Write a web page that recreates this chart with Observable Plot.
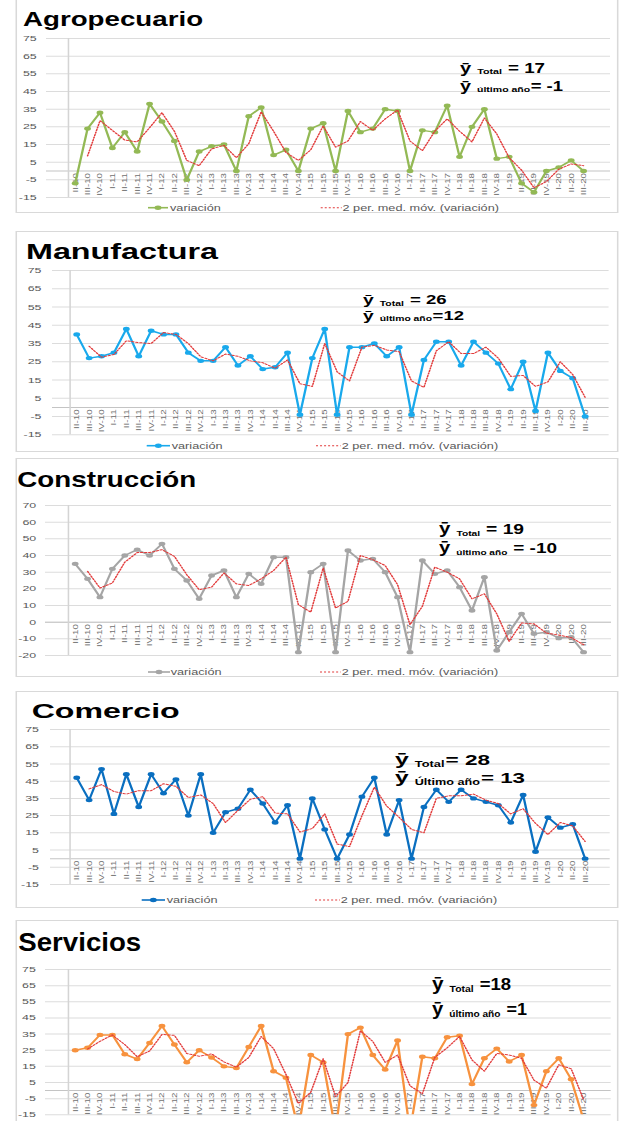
<!DOCTYPE html>
<html><head><meta charset="utf-8">
<script src="https://cdn.jsdelivr.net/npm/d3@7"></script>
<script src="https://cdn.jsdelivr.net/npm/@observablehq/plot@0.6"></script>
<style>
html,body{margin:0;padding:0;background:#fff;overflow:hidden;width:633px;height:1121px;}
#stage{position:absolute;left:0;top:0;width:408px;height:1121px;transform:scaleX(1.55);transform-origin:0 0;font-family:"Liberation Sans",Arial,sans-serif;}
.panel{position:absolute;border:1px solid #d9d9d9;box-sizing:border-box;background:#fff;}
.plotbox{position:absolute;left:0;z-index:1;}
.overlay{position:absolute;left:0;top:0;z-index:2;pointer-events:none;}
</style></head>
<body><div id="stage"></div>
<script>
// ---- data ----
const quarters = ["II-10","III-10","IV-10","I-11","II-11","III-11","IV-11","I-12","II-12","III-12","IV-12",
  "I-13","II-13","III-13","IV-13","I-14","II-14","III-14","IV-14","I-15","II-15","III-15","IV-15",
  "I-16","II-16","III-16","IV-16","I-17","II-17","III-17","IV-17","I-18","II-18","III-18","IV-18",
  "I-19","II-19","III-19","IV-19","I-20","II-20","III-20"];
const agropecuario = [-7,24,33,13,22,11,38,28,17,-5,11,14,15,0,31,36,9,12,0,24,27,0,34,22,24,35,34,0,23,22,37,8,25,35,7,8,-7,-12,0,2,6,0];
const manufactura = [40,27,28,30,43,28,42,40,40,30,25.5,25.5,33,23,28,21,22,30,-4,27,43,-4,33,33,35,28,33,-4,26,36,36,23,36,30,24,10,25,-2,30,20,16,-5];
const construccion = [35,26,15,32,40,43.5,40,47,32,25,14,28,31,15,29,23,39,39,-18,30,35,-18,43,37,38,30,15,-18,37,29,31,21,7,27,-17,-6,5,-7,-6,-9.5,-9,-18];
const comercio = [47,34,52,26,49,30,49,38,46,25,49,15,27,29,40,32,21,31,0,35,17,0,14,36,47,14,34,0,30,40,33,40,35,33,31,21,37,4,24,18,20,0];
const servicios = [25,26.5,34.5,34.5,22.5,19.5,29.5,40,28.5,17.5,25,20.5,15,14,27,40,12,8,-24,22,17.5,-25,35,39,22,13,31,-25,21,20,33,34,4,20,26,18,22,-9,12,20,7,-18];
const ticks15 = [-15,-5,5,15,25,35,45,55,65,75];
const ticks20 = [-20,-10,0,10,20,30,40,50,60,70];
const titles = ["Agropecuario","Manufactura","Construcción","Comercio","Servicios"];
const promTotal = [17,26,19,28,18];
const promUltimo = [-1,12,-10,13,1];
const legendLabels = ["variación","2 per. med. móv. (variación)"];

// ---- layout (picture px; x is divided by S because the page is stretched horizontally) ----
const S = 1.55, W = 408;
const panels = [
 {values: agropecuario, color:"#93b955", ticks: ticks15, domain:[-15,75], box:[-1,213], px:[46,610], py:[38,197], pad:6.5,
  title:{x:23,y:26,w:180,size:21}, leg:{y:207.7, a:[148,168,170], b:[320.7,341.7,342.5]},
  note:{x:460, y:[72.7,90.7], w:[85,103], sz:[15,14,8], sub:["Total","último año"], eq:["= ","= "], g2:[6,0.5]}},
 {values: manufactura, color:"#19a9ec", ticks: ticks15, domain:[-15,75], box:[231,452], px:[52,608.6], py:[269.7,434], pad:7.3,
  title:{x:26,y:258.7,w:192,size:22}, leg:{y:445.7, a:[146.7,170,171.7], b:[316,340.7,341.7]},
  note:{x:363, y:[304,319.7], w:[83.7,101], sz:[13,12.5,7], sub:["Total","último año"], eq:["= ","="], g2:[6,0.5]}},
 {values: construccion, color:"#a5a5a5", ticks: ticks20, domain:[-20,70], box:[458,677], px:[45,611], py:[505,655], pad:6.2,
  title:{x:17.3,y:486.7,w:179,size:22}, leg:{y:672, a:[148,170,170.7], b:[320,340.7,341.7]},
  note:{x:439, y:[534,553], w:[85,118], sz:[16,15,8], sub:["Total","último año"], eq:["= ","= "], g2:[6,6]}},
 {values: comercio, color:"#0a6fc0", ticks: ticks15, domain:[-15,75], box:[691,908], px:[50,609.7], py:[729.3,884.3], pad:7.6,
  title:{x:31.7,y:717.7,w:148,size:20.5}, leg:{y:900, a:[141.7,165,166.7], b:[315,340,340.7]},
  note:{x:395, y:[765,783], w:[95,130], sz:[16.5,15,8.5], sub:["Total","Último  año"], eq:["= ","= "], g2:[1,1]}},
 {values: servicios, color:"#f7923e", ticks: ticks15, domain:[-15,75], box:[920,1130], px:[45,610.7], py:[969,1114.3], pad:6.4,
  title:{x:18.3,y:950.7,w:123,size:26}, leg:null,
  note:{x:432, y:[990,1015], w:[79,95], sz:[18,16,9], sub:["Total","último año"], eq:["=","="], g2:[6,6]}}
];

const stage = document.getElementById("stage");
const FONT = "Liberation Sans, Arial, sans-serif";
const MA = "#e23b3b";

panels.forEach((p, k) => {
  const box = document.createElement("div");
  box.className = "panel";
  box.style.left = (15 / S) + "px";
  box.style.width = ((619 - 15) / S) + "px";
  box.style.top = p.box[0] + "px";
  box.style.height = (p.box[1] - p.box[0]) + "px";
  stage.appendChild(box);

  const data = quarters.map((q, i) => ({q, v: p.values[i]}));
  const ml = p.px[0] / S, mr = W - p.px[1] / S, mt = 4, mb = 4;
  const step = (p.px[1] - p.px[0]) / S / quarters.length;
  const chart = Plot.plot({
    width: W, height: (p.py[1] - p.py[0]) + mt + mb,
    marginLeft: ml, marginRight: mr, marginTop: mt, marginBottom: mb,
    style: {background: "transparent", fontSize: "8px", fontFamily: FONT, color: "#595959", overflow: "visible"},
    x: {type: "point", domain: quarters, padding: 0.5, axis: null},
    y: {domain: p.domain, ticks: p.ticks, tickSize: 0, tickPadding: p.pad, label: null, tickFormat: d => String(d)},
    marks: [
      Plot.ruleY(p.ticks, {stroke: "#dcdcdc", strokeWidth: 1}),
      Plot.ruleY([0], {stroke: "#c4c4c4", strokeWidth: 1}),
      Plot.ruleX([quarters[0]], {dx: -step / 2, y1: p.domain[0], y2: p.domain[1], stroke: "#d4d4d4"}),
      Plot.text(quarters, {x: d => d, y: () => 0, text: d => d, rotate: -90, textAnchor: "end", dy: 2,
        fontSize: 5, fill: "#707070"}),
      Plot.lineY(data, {x: "q", y: "v", stroke: p.color, strokeWidth: 1.5, clip: true}),
      Plot.dot(data, {x: "q", y: "v", r: 2.2, fill: p.color, clip: true}),
      Plot.lineY(data, Plot.windowY(
        {k: 2, anchor: "end", strict: true, reduce: vs => (vs.length < 2 ? NaN : (vs[0] + vs[1]) / 2)},
        {x: "q", y: "v", stroke: MA, strokeWidth: 1, strokeDasharray: "1.3,1.3", clip: true}))
    ]
  });
  chart.classList.add("plotbox");
  chart.style.position = "absolute";
  chart.style.left = "0px";
  chart.style.top = (p.py[0] - mt) + "px";
  stage.appendChild(chart);
  // x labels are narrow and long in the original: stretch along the text direction
  d3.select(chart).selectAll("text").each(function () {
    const t = this.getAttribute("transform");
    if (t && t.includes("rotate")) this.setAttribute("transform", t + " scale(1.95,1)");
  });
});

// ---- overlay: titles, annotations, legends ----
const ov = d3.create("svg").attr("class", "overlay").attr("width", W).attr("height", 1121)
  .attr("font-family", FONT);
stage.appendChild(ov.node());

// place pieces side by side, squeezing each horizontally with a transform so they fill the target width
function drawNote(x0, y, pieces, gaps, target) {
  const els = pieces.map(pc => ov.append("text").attr("x", 0).attr("y", 0)
    .attr("font-size", pc.size).attr("font-weight", "bold").attr("fill", "#000")
    .attr("font-family", "Liberation Sans, DejaVu Sans, sans-serif").text(pc.text));
  const widths = els.map(e => e.node().getComputedTextLength());
  const f = (target - d3.sum(gaps)) / d3.sum(widths);
  let x = x0;
  els.forEach((e, i) => {
    e.attr("transform", `translate(${x},${y + (pieces[i].dy || 0)}) scale(${f},1)`);
    x += widths[i] * f + (gaps[i] || 0);
  });
}

function drawSqueezed(x, y, size, target, text) {
  const e = ov.append("text").attr("x", 0).attr("y", 0)
    .attr("font-size", size).attr("font-weight", "bold").attr("fill", "#000").text(text);
  const f = target / e.node().getComputedTextLength();
  e.attr("transform", `translate(${x},${y}) scale(${f},1)`);
}

panels.forEach((p, k) => {
  drawSqueezed(p.title.x / S, p.title.y, p.title.size, p.title.w / S, titles[k]);

  const nums = [promTotal[k], promUltimo[k]];
  [0, 1].forEach(j => {
    drawNote(p.note.x / S, p.note.y[j],
      [{text: "ȳ", size: p.note.sz[0]},
       {text: p.note.sub[j], size: p.note.sz[2], dy: 1.5},
       {text: p.note.eq[j] + nums[j], size: p.note.sz[1]}],
      [6 / S, p.note.g2[j] / S], p.note.w[j] / S);
  });

  if (p.leg) {
    const L = p.leg, y = L.y;
    ov.append("line").attr("x1", L.a[0] / S).attr("x2", L.a[1] / S).attr("y1", y).attr("y2", y)
      .attr("stroke", p.color).attr("stroke-width", 1.6);
    ov.append("circle").attr("cx", (L.a[0] + L.a[1]) / 2 / S).attr("cy", y).attr("r", 2.2).attr("fill", p.color);
    ov.append("text").attr("x", L.a[2] / S).attr("y", y).attr("dy", "0.36em")
      .attr("font-size", 8.2).attr("fill", "#595959").text(legendLabels[0]);
    ov.append("line").attr("x1", L.b[0] / S).attr("x2", L.b[1] / S).attr("y1", y).attr("y2", y)
      .attr("stroke", MA).attr("stroke-width", 1).attr("stroke-dasharray", "1.3,1.3");
    ov.append("text").attr("x", L.b[2] / S).attr("y", y).attr("dy", "0.36em")
      .attr("font-size", 8.2).attr("fill", "#595959").text(legendLabels[1]);
  }
});
</script>
</body></html>
